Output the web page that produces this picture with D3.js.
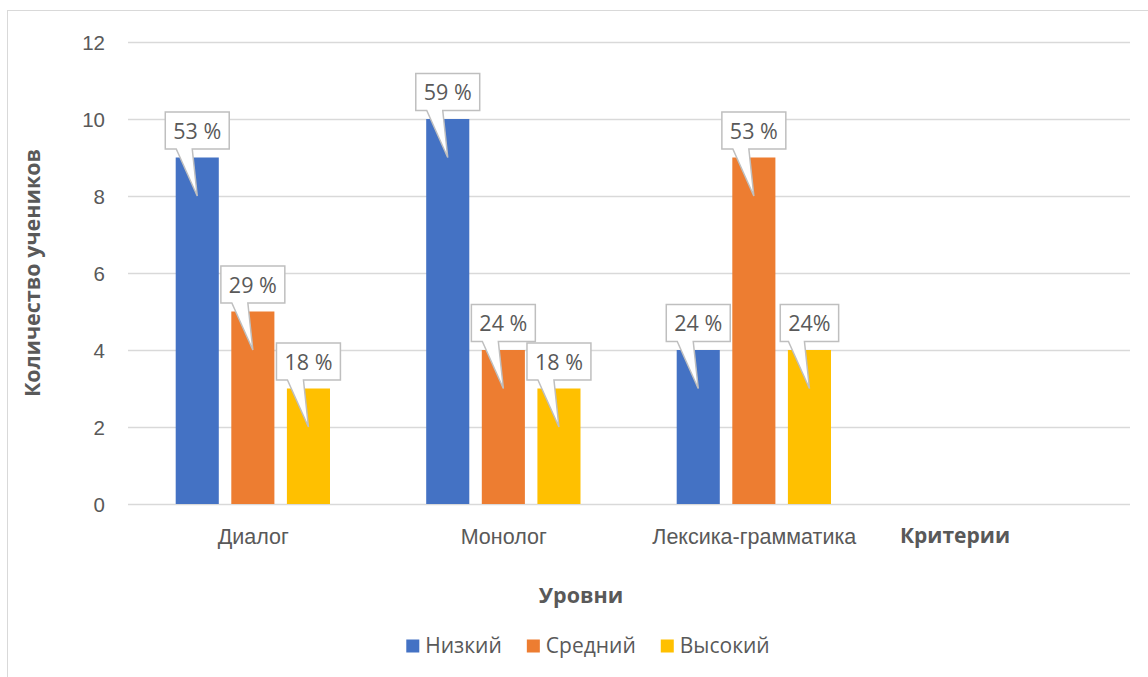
<!DOCTYPE html>
<html>
<head>
<meta charset="utf-8">
<script src="https://cdn.jsdelivr.net/npm/d3@7"></script>
<style>
  html, body { margin: 0; padding: 0; background: #fff; }
  svg { display: block; font-family: "Open Sans", "Noto Sans", sans-serif; }
</style>
</head>
<body>
<svg id="chart" width="1148" height="677"></svg>
<script>
// ---- data ----
const categories = ["Диалог", "Монолог", "Лексика-грамматика"];
const seriesNames = ["Низкий", "Средний", "Высокий"];
const seriesColors = ["#4472C4", "#ED7D31", "#FFC000"];
const lowValues = [9, 10, 4];
const midValues = [5, 4, 9];
const highValues = [3, 3, 4];
const lowLabels = ["53 %", "59 %", "24 %"];
const midLabels = ["29 %", "24 %", "53 %"];
const highLabels = ["18 %", "18 %", "24%"];
const yTicks = [0, 2, 4, 6, 8, 10, 12];
const yTitle = "Количество учеников";
const xTitle = "Уровни";
const xAxisName = "Критерии";

const seriesValues = [lowValues, midValues, highValues];
const seriesLabels = [lowLabels, midLabels, highLabels];

const svg = d3.select("#chart");
const textColor = "#595959";
const gridColor = "#d9d9d9";

const pL = 128, pR = 1130, pT = 42, pB = 504;

// chart border
svg.append("rect").attr("x", 7.5).attr("y", 10.5).attr("width", 1200).attr("height", 700)
  .attr("fill", "#fff").attr("stroke", "#d9d9d9").attr("stroke-width", 1);

const y = d3.scaleLinear().domain([0, 12]).range([pB, pT]);
const x0 = d3.scaleBand().domain(categories.concat([" "])).range([pL, pR]).padding(0);
const groupStart = 47.7, groupWidth = 154.3;
const x1 = d3.scaleBand().domain(seriesNames).range([0, groupWidth]).paddingInner(0.225).paddingOuter(0);

// y grid + labels
const yAxis = d3.axisLeft(y).tickValues(yTicks).tickSize(-(pR - pL)).tickPadding(23).tickFormat(d3.format("d"));
const gy = svg.append("g").attr("transform", `translate(${pL},0)`).call(yAxis);
gy.select(".domain").remove();
gy.selectAll(".tick line").attr("stroke", gridColor).attr("stroke-width", 1.3);
gy.selectAll(".tick text").attr("fill", textColor).attr("font-size", 20.5).attr("dy", "0.36em");

// x axis labels
const xAxis = d3.axisBottom(x0).tickSize(0).tickPadding(0);
const gx = svg.append("g").attr("transform", `translate(0,${pB})`).call(xAxis);
gx.select(".domain").remove();
gx.selectAll(".tick text").attr("fill", textColor).attr("font-size", 21.5).attr("dy", null).attr("y", 39.5);

// bars
const rows = [];
categories.forEach((c, ci) => {
  seriesNames.forEach((s, si) => {
    rows.push({ cat: c, series: s, si: si, value: seriesValues[si][ci], label: seriesLabels[si][ci] });
  });
});

svg.append("g").selectAll("rect").data(rows).join("rect")
  .attr("x", d => x0(d.cat) + groupStart + x1(d.series))
  .attr("y", d => y(d.value))
  .attr("width", x1.bandwidth())
  .attr("height", d => y(0) - y(d.value))
  .attr("fill", d => seriesColors[d.si]);

// callout labels
const lg = svg.append("g");
rows.forEach(d => {
  const cx = x0(d.cat) + groupStart + x1(d.series) + x1.bandwidth() / 2;
  const barTop = y(d.value);
  const tipY = y(d.value - 1);
  const g = lg.append("g");
  const t = g.append("text").attr("font-size", 21.5).attr("fill", textColor)
    .attr("text-anchor", "middle").text(d.label);
  const tw = t.node().getComputedTextLength();
  const bw = tw + 16, bh = 37;
  const bx = cx - bw / 2, byB = barTop - 8.5, byT = byB - bh;
  const p = d3.path();
  p.moveTo(bx, byT);
  p.lineTo(bx + bw, byT);
  p.lineTo(bx + bw, byB);
  p.lineTo(cx - 5, byB);
  p.lineTo(cx, tipY);
  p.lineTo(cx - 21, byB);
  p.lineTo(bx, byB);
  p.closePath();
  g.insert("path", "text").attr("d", p.toString()).attr("fill", "#fff")
    .attr("stroke", "#bfbfbf").attr("stroke-width", 1.5).attr("stroke-linejoin", "miter");
  t.attr("x", cx).attr("y", byT + 26.5);
});

// axis titles
svg.append("text").attr("transform", `translate(40,${(pT + pB) / 2}) rotate(-90)`)
  .attr("text-anchor", "middle").attr("font-size", 21.5).attr("font-weight", "bold")
  .attr("fill", textColor).text(yTitle);
svg.append("text").attr("x", 581).attr("y", 603).attr("text-anchor", "middle")
  .attr("font-size", 21.5).attr("font-weight", "bold").attr("fill", textColor).text(xTitle);
svg.append("text").attr("x", 955).attr("y", 543).attr("text-anchor", "middle")
  .attr("font-size", 21).attr("font-weight", "bold").attr("fill", textColor).text(xAxisName);

// legend
const leg = svg.append("g");
const items = seriesNames.map((s, i) => {
  const g = leg.append("g");
  g.append("rect").attr("width", 13).attr("height", 13).attr("y", -13).attr("fill", seriesColors[i]);
  const t = g.append("text").attr("x", 19).attr("font-size", 21).attr("fill", textColor).text(s);
  return { g: g, w: 19 + t.node().getComputedTextLength() };
});
const gap = 25;
const total = d3.sum(items, d => d.w) + gap * (items.length - 1);
let lx = 588 - total / 2;
items.forEach(it => { it.g.attr("transform", `translate(${lx},652.5)`); lx += it.w + gap; });
</script>
</body>
</html>
